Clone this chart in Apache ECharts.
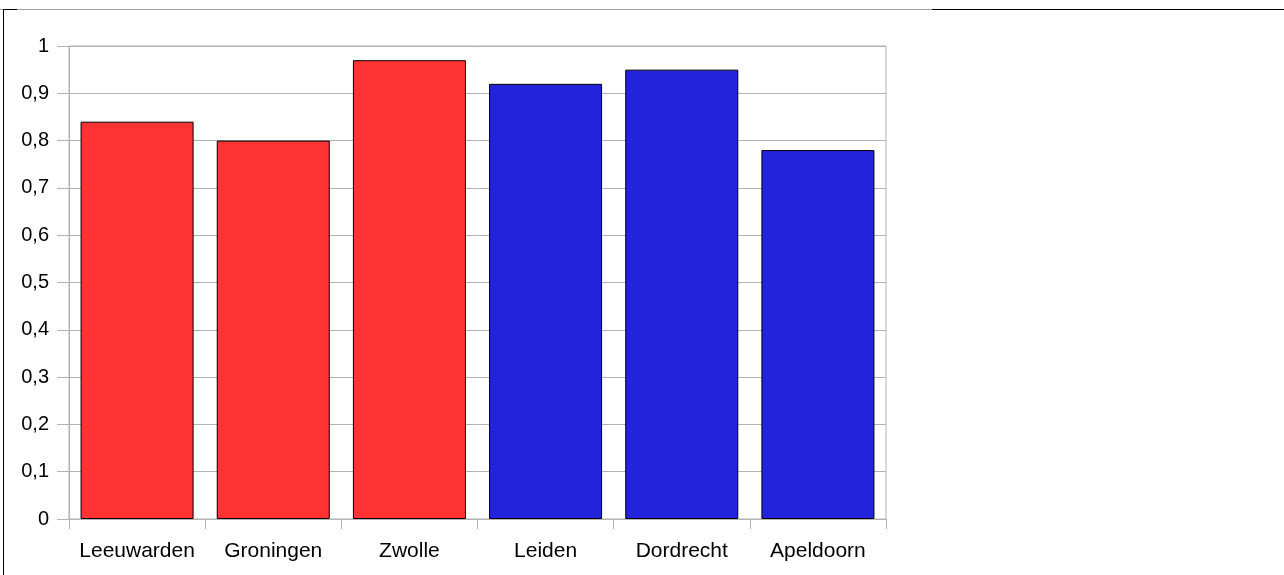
<!DOCTYPE html>
<html>
<head>
<meta charset="utf-8">
<script src="https://cdn.jsdelivr.net/npm/echarts@6/dist/echarts.min.js"></script>
<style>
  html, body { margin: 0; padding: 0; background: #ffffff; }
  #chart { width: 1284px; height: 575px; }
</style>
</head>
<body>
<div id="chart"></div>
<script>
// Cities and their scores
const cities = ['Leeuwarden', 'Groningen', 'Zwolle', 'Leiden', 'Dordrecht', 'Apeldoorn'];
const scores = [0.84, 0.80, 0.97, 0.92, 0.95, 0.78];
const barColors = ['#ff3333', '#ff3333', '#ff3333', '#2323dc', '#2323dc', '#2323dc'];
const yTicks = [0, 0.1, 0.2, 0.3, 0.4, 0.5, 0.6, 0.7, 0.8, 0.9, 1];

const gridColor = '#b3b3b3';
const font = 'Liberation Sans, Arial, sans-serif';

const chart = echarts.init(document.getElementById('chart'), null, { renderer: 'canvas' });

chart.setOption({
  animation: false,
  backgroundColor: '#ffffff',
  grid: {
    left: 69, top: 46, right: 398, bottom: 56,
    show: true, borderColor: gridColor, borderWidth: 1, backgroundColor: 'transparent'
  },
  xAxis: {
    type: 'category',
    data: cities,
    axisLine: { show: true, lineStyle: { color: gridColor, width: 1 } },
    axisTick: { show: true, interval: 0, alignWithLabel: false, length: 10, lineStyle: { color: gridColor } },
    axisLabel: { interval: 0, hideOverlap: false, color: '#000', fontFamily: font, fontSize: 21, margin: 22 }
  },
  yAxis: {
    type: 'value',
    min: yTicks[0],
    max: yTicks[yTicks.length - 1],
    interval: 0.1,
    axisLine: { show: true, lineStyle: { color: gridColor, width: 1 } },
    axisTick: { show: true, length: 12, lineStyle: { color: gridColor } },
    splitLine: { show: true, lineStyle: { color: gridColor, width: 1 } },
    axisLabel: {
      color: '#000', fontFamily: font, fontSize: 20, margin: 20,
      formatter: v => String(Math.round(v * 10) / 10).replace('.', ',')
    }
  },
  series: [{
    type: 'bar',
    barCategoryGap: '17%',
    data: scores.map((v, i) => ({
      value: v,
      itemStyle: { color: barColors[i], borderColor: '#000', borderWidth: 1 }
    }))
  }],
  graphic: [
    // page frame: grey top edge, dark right part, dark left edge
    { type: 'line', shape: { x1: 0, y1: 9.5, x2: 932, y2: 9.5 }, style: { stroke: '#a0a0a0', lineWidth: 1 } },
    { type: 'line', shape: { x1: 932, y1: 9.5, x2: 1284, y2: 9.5 }, style: { stroke: '#000', lineWidth: 1 } },
    { type: 'line', shape: { x1: 3, y1: 9.5, x2: 17, y2: 9.5 }, style: { stroke: '#000', lineWidth: 1 } },
    { type: 'line', shape: { x1: 3.5, y1: 9, x2: 3.5, y2: 575 }, style: { stroke: '#000', lineWidth: 1 } }
  ]
});
</script>
</body>
</html>
